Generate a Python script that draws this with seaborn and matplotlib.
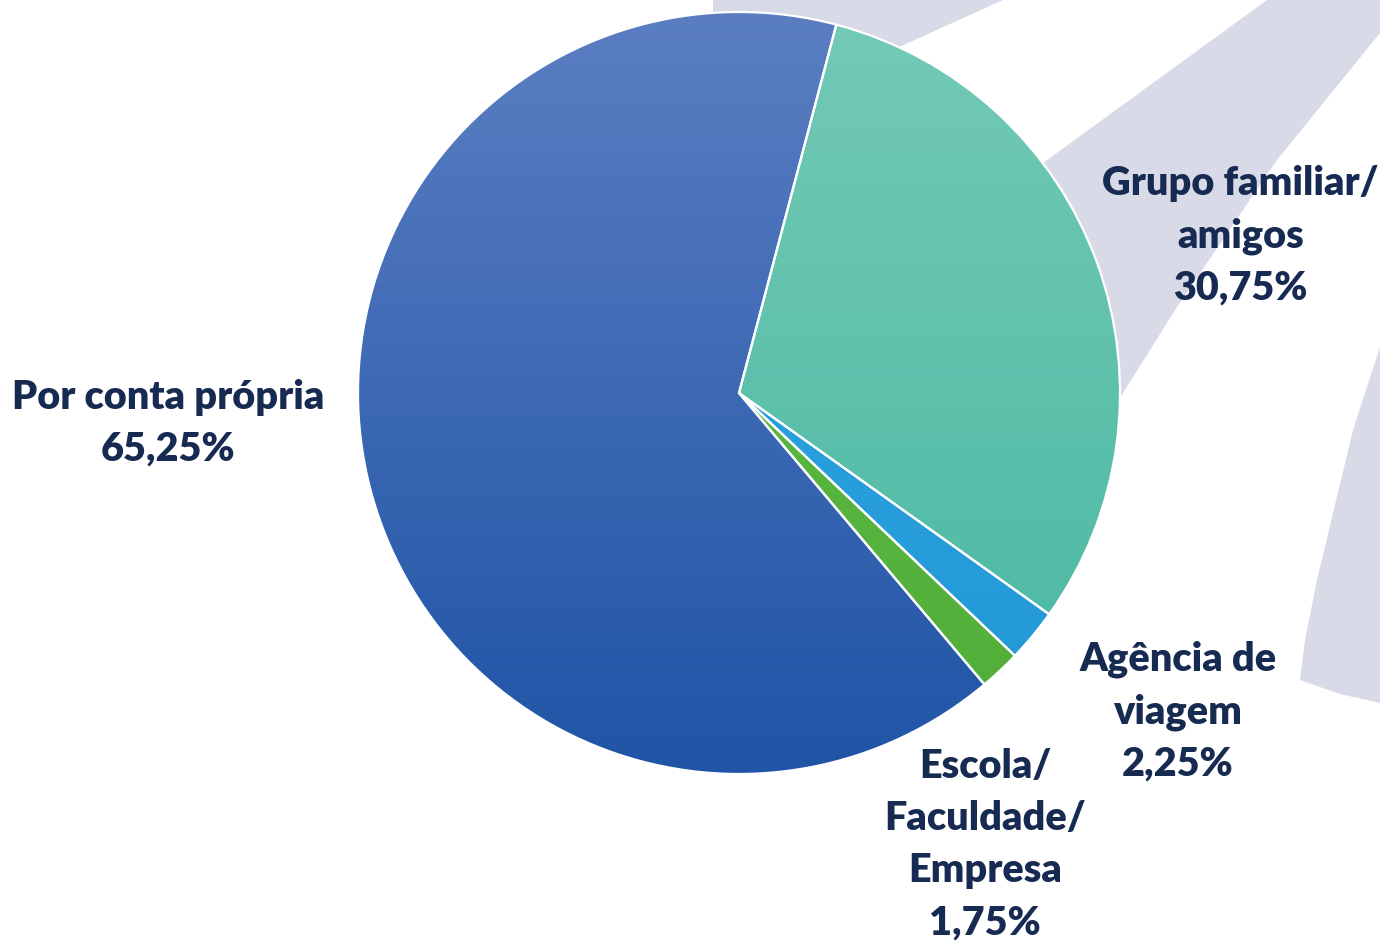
import matplotlib
matplotlib.use("Agg")
import matplotlib.pyplot as plt
import numpy as np
import seaborn as sns
from matplotlib.colors import LinearSegmentedColormap
from matplotlib.patches import Polygon

# data, clockwise from the top
categories = ["Grupo familiar/\namigos", "Agência de\nviagem",
              "Escola/\nFaculdade/\nEmpresa", "Por conta própria"]
shares = [30.75, 2.25, 1.75, 65.25]
share_labels = ["30,75%", "2,25%", "1,75%", "65,25%"]

# (top, bottom) colours of each slice gradient
grad_colors = [("#74cab6", "#47b7a1"),
               ("#33a8e6", "#2297d6"),
               ("#62be48", "#50ae38"),
               ("#5b7ec2", "#1f54a6")]

# label centres in pie units
label_pos = [(1.316, 0.412), (1.152, -0.837), (0.646, -1.186), (-1.499, -0.079)]

sns.set_theme(style="white")
plt.rcParams['font.family'] = ['Lato', 'DejaVu Sans']

W, H = 1380, 942
fig = plt.figure(figsize=(W / 100, H / 100), dpi=100)
fig.patch.set_facecolor("white")

# decorative background swooshes (pixel coords)
bg = fig.add_axes([0, 0, 1, 1], zorder=0)
bg.set_xlim(0, W)
bg.set_ylim(H, 0)
bg.axis("off")
gray = "#d8dae7"
shapes = [
    [(713, 0), (1003, 0), (908, 43), (770, 108), (713, 150)],
    [(1267, 0), (1380, 0), (1380, 33), (1277, 160), (1177, 307), (1123, 393),
     (1060, 470), (900, 300), (1043, 163)],
    [(1380, 347), (1366, 390), (1353, 430), (1335, 505), (1317, 580),
     (1305, 640), (1300, 680), (1340, 694), (1380, 703)],
]
for pts in shapes:
    bg.add_patch(Polygon(pts, closed=True, facecolor=gray, edgecolor="none"))

# pie axes: centre (739, 393) px, radius 381 px
cx, cy, r = 739, 393, 381
ax = fig.add_axes([(cx - r) / W, (H - cy - r) / H, 2 * r / W, 2 * r / H], zorder=1)
ax.patch.set_alpha(0)
wedges, _ = ax.pie(shares, startangle=75.2, counterclock=False, radius=1,
                   wedgeprops=dict(edgecolor="white", linewidth=1.6, facecolor="none"))

grad = np.linspace(0, 1, 256).reshape(-1, 1)
for w, (top, bot) in zip(wedges, grad_colors):
    cmap = LinearSegmentedColormap.from_list("g", [top, bot])
    im = ax.imshow(grad, cmap=cmap, extent=(-1, 1, -1, 1), aspect="auto",
                   origin="upper", zorder=1)
    im.set_clip_path(w)
    w.set_zorder(2)

ax.set_xlim(-1, 1)
ax.set_ylim(-1, 1)
ax.set_aspect("equal")
ax.axis("off")

for name, lab, (x, y) in zip(categories, share_labels, label_pos):
    ax.text(x, y, name + "\n" + lab, ha="center", va="center", fontsize=28.5,
            fontweight="heavy", color="#172a51", linespacing=1.5,
            clip_on=False, zorder=5)

fig.savefig("out.png", dpi=100)
